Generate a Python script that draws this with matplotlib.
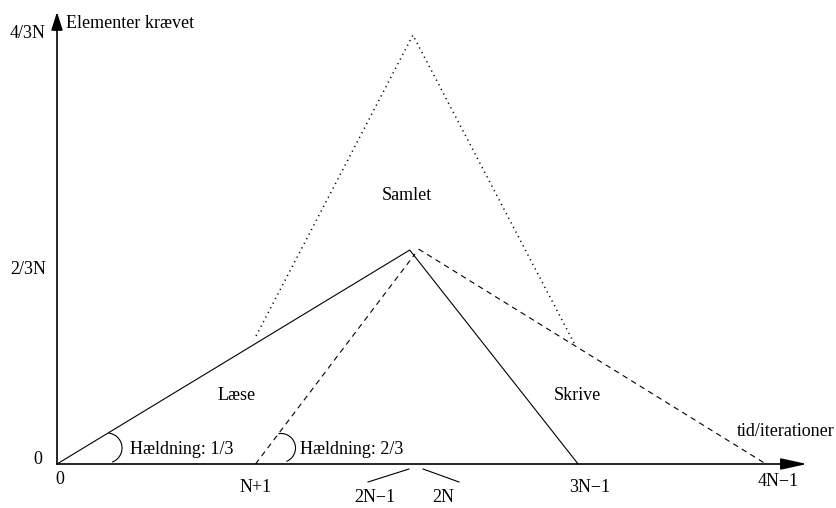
import numpy as np
import matplotlib
matplotlib.use('Agg')
import matplotlib.pyplot as plt

# curves in units of N (x: iterations, y: elements required)
read_x = [0, 1.99, 2.94]
read_y = [0, 0.665, 0]
write_up_x = [1.12, 2.02]
write_up_y = [0, 0.653]
write_down_x = [2.04, 4.0]
write_down_y = [0.668, 0]
total_x = [1.123, 2.008, 2.917]
total_y = [0.398, 1.333, 0.376]

xtick_labels = ['0', 'N+1', '3N\u22121', '4N\u22121']
ytick_labels = ['0', '2/3N', '4/3N']

W, H = 836, 508
X0, Y0 = 57, 464          # pixel position of origin
SX, SY = 177.25, 321.75   # pixels per unit


def px(x, y):
    return (x - X0) / SX, (Y0 - y) / SY


fig = plt.figure(figsize=(W / 100, H / 100), dpi=100)
ax = fig.add_axes([0, 0, 1, 1])
ax.set_xlim(-X0 / SX, (W - X0) / SX)
ax.set_ylim(-(H - Y0) / SY, Y0 / SY)
ax.axis('off')

font = dict(family='Liberation Serif', fontsize=13, color='black')

# axes with arrows
ax.annotate('', xy=px(57, 12), xytext=(0, 0),
            arrowprops=dict(arrowstyle='-|>,head_length=1.1,head_width=0.35',
                            lw=1.2, color='black', shrinkA=0, shrinkB=0))
ax.annotate('', xy=px(807, 464), xytext=(0, 0),
            arrowprops=dict(arrowstyle='-|>,head_length=1.6,head_width=0.35',
                            lw=1.2, color='black', shrinkA=0, shrinkB=0))

ax.plot(read_x, read_y, color='black', lw=0.8)
ax.plot(write_up_x, write_up_y, color='black', lw=0.8, ls=(0, (5, 4)))
ax.plot(write_down_x, write_down_y, color='black', lw=0.8, ls=(0, (5, 4)))
ax.plot(total_x, total_y, color='black', lw=1.1, ls=(0, (0.8, 2.6)))


def arc(cx, cy, r, a1, a2):
    # small slope marker, centre given in pixels
    t = np.radians(np.linspace(a1, a2, 40))
    x0, y0 = px(cx, cy)
    ax.plot(x0 + r * np.cos(t) / SX, y0 + r * np.sin(t) / SY, color='black', lw=0.8)


arc(107, 448, 15, -68, 82)
arc(281, 448, 14.5, -66, 98)

# tick labels
x_lab_px = [(60, 480), (256, 487), (590, 488), (778, 482)]
for (lx, ly), lab in zip(x_lab_px, xtick_labels):
    ax.text(*px(lx, ly), lab, ha='center', va='center', **font)
y_lab_px = [(38, 459), (28, 270), (28, 33)]
for (lx, ly), lab in zip(y_lab_px, ytick_labels):
    ax.text(*px(lx, ly), lab, ha='center', va='center', **font)

# 2N-1 / 2N markers
ax.plot(*zip(px(368, 482), px(409, 469)), color='black', lw=0.8)
ax.plot(*zip(px(423, 469), px(459, 482)), color='black', lw=0.8)
ax.text(*px(375, 498), '2N\u22121', ha='center', va='center', **font)
ax.text(*px(443, 498), '2N', ha='center', va='center', **font)

ax.text(*px(66, 23), 'Elementer krævet', ha='left', va='center', **font)
ax.text(*px(835, 432), 'tid/iterationer', ha='right', va='center', **font)
ax.text(*px(130, 450), 'Hældning: 1/3', ha='left', va='center', **font)
ax.text(*px(300, 450), 'Hældning: 2/3', ha='left', va='center', **font)
ax.text(*px(237, 395), 'Læse', ha='center', va='center', **font)
ax.text(*px(577, 395), 'Skrive', ha='center', va='center', **font)
ax.text(*px(407, 195), 'Samlet', ha='center', va='center', **font)

fig.savefig('out.png', dpi=100)
